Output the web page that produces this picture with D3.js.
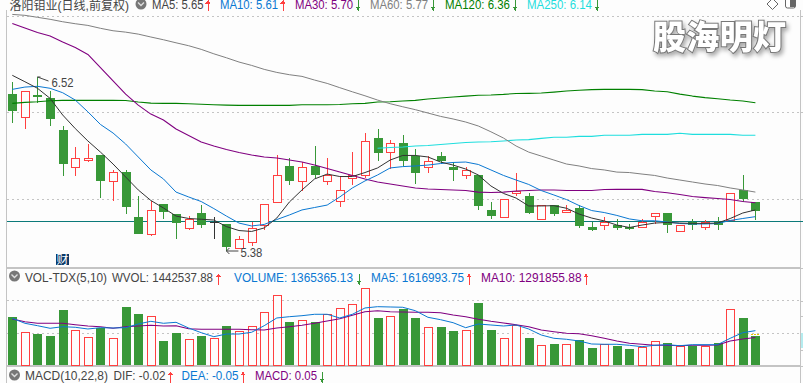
<!DOCTYPE html>
<meta charset="utf-8">
<style>
html, body { margin: 0; padding: 0; background: #fdfdfd; overflow: hidden; }
svg { display: block; }
text { font-family: "Liberation Sans", "Noto Sans CJK SC", sans-serif; font-size: 13px; }
.crisp { shape-rendering: crispEdges; }
.ma { fill: none; stroke-linejoin: round; }
.mark { font-family: "Noto Sans CJK SC"; font-weight: 900; font-size: 33px; fill: #fff; stroke: #777; stroke-width: 2px; paint-order: stroke; filter: drop-shadow(2px 3px 2px #aaa); }
</style>
<body>
<script src="https://d3js.org/d3.v7.min.js"></script>
<script>
const opens = [6.41,6.26,6.40,6.38,6.17,5.93,5.98,6.01,5.84,5.90,5.60,5.49,5.69,5.62,5.53,5.63,5.57,5.56,5.40,5.44,5.55,5.70,5.94,5.84,5.94,5.84,5.71,5.86,5.88,6.12,6.03,6.09,6.00,5.93,6.00,5.93,5.88,5.88,5.65,5.60,5.76,5.74,5.59,5.68,5.64,5.66,5.54,5.55,5.55,5.54,5.54,5.61,5.63,5.51,5.57,5.54,5.57,5.58,5.78,5.70];
const closes = [6.30,6.43,6.39,6.24,5.95,5.99,5.99,5.84,5.90,5.67,5.49,5.65,5.64,5.56,5.59,5.55,5.57,5.41,5.46,5.53,5.69,5.88,5.84,5.93,5.88,5.88,5.78,5.88,6.10,6.02,6.09,5.97,5.89,5.97,5.97,5.91,5.91,5.68,5.61,5.72,5.77,5.63,5.68,5.62,5.65,5.54,5.52,5.57,5.53,5.53,5.57,5.63,5.55,5.55,5.55,5.57,5.55,5.76,5.72,5.64];
const highs = [6.49,6.43,6.52,6.43,6.20,6.06,6.08,6.01,5.91,5.91,5.74,5.71,5.69,5.62,5.61,5.68,5.60,5.56,5.48,5.57,5.69,6.01,5.99,5.96,6.07,5.99,5.87,6.03,6.15,6.18,6.11,6.14,6.05,6.00,6.03,5.96,5.93,5.88,5.70,5.72,5.89,5.76,5.68,5.68,5.68,5.68,5.57,5.60,5.59,5.56,5.59,5.63,5.63,5.55,5.59,5.58,5.60,5.76,5.88,5.70];
const lows = [6.22,6.18,6.35,6.20,5.87,5.87,5.96,5.73,5.71,5.62,5.49,5.48,5.59,5.46,5.52,5.53,5.46,5.38,5.39,5.41,5.52,5.70,5.81,5.77,5.86,5.81,5.67,5.81,5.86,5.97,5.92,5.94,5.82,5.89,5.95,5.84,5.85,5.65,5.59,5.60,5.74,5.62,5.59,5.61,5.63,5.53,5.51,5.52,5.52,5.52,5.53,5.56,5.50,5.51,5.52,5.52,5.52,5.58,5.70,5.58];

const ma5 = [6.531,6.489,6.446,6.380,6.271,6.182,6.101,6.028,5.950,5.865,5.780,5.711,5.662,5.609,5.593,5.588,5.583,5.540,5.514,5.508,5.531,5.596,5.701,5.780,5.852,5.884,5.868,5.868,5.894,5.924,5.976,6.006,6.006,5.996,5.963,5.943,5.917,5.878,5.806,5.757,5.727,5.675,5.675,5.677,5.660,5.622,5.596,5.577,5.550,5.534,5.550,5.563,5.567,5.563,5.561,5.561,5.563,5.593,5.629,5.649];
const ma10 = [6.439,6.454,6.459,6.446,6.417,6.369,6.292,6.209,6.153,6.081,5.996,5.911,5.852,5.766,5.734,5.704,5.658,5.609,5.563,5.544,5.554,5.586,5.616,5.649,5.665,5.681,5.734,5.793,5.839,5.878,5.924,5.933,5.937,5.943,5.953,5.960,5.963,5.947,5.911,5.875,5.845,5.816,5.776,5.747,5.717,5.678,5.645,5.632,5.613,5.590,5.578,5.578,5.570,5.560,5.557,5.557,5.560,5.580,5.593,5.605];
const ma30 = [6.871,6.841,6.811,6.788,6.749,6.713,6.668,6.582,6.494,6.408,6.336,6.277,6.238,6.179,6.137,6.094,6.068,6.045,6.025,6.009,5.996,5.989,5.976,5.963,5.943,5.920,5.897,5.875,5.852,5.832,5.819,5.806,5.793,5.786,5.783,5.780,5.776,5.766,5.763,5.766,5.773,5.776,5.780,5.780,5.776,5.776,5.776,5.783,5.784,5.784,5.784,5.770,5.762,5.750,5.737,5.730,5.724,5.717,5.704,5.696];
const ma60 = [6.930,6.924,6.911,6.898,6.882,6.869,6.858,6.839,6.823,6.814,6.801,6.782,6.764,6.744,6.725,6.701,6.672,6.646,6.618,6.596,6.570,6.550,6.535,6.524,6.500,6.478,6.450,6.423,6.397,6.369,6.345,6.325,6.306,6.284,6.262,6.245,6.225,6.199,6.161,6.120,6.068,6.028,6.002,5.976,5.950,5.937,5.920,5.911,5.897,5.894,5.884,5.875,5.858,5.845,5.832,5.819,5.809,5.793,5.780,5.766];
const ma120 = [6.347,6.354,6.358,6.364,6.367,6.367,6.367,6.367,6.367,6.366,6.356,6.349,6.347,6.347,6.345,6.341,6.338,6.336,6.334,6.334,6.334,6.334,6.334,6.338,6.338,6.338,6.340,6.345,6.347,6.356,6.358,6.363,6.367,6.376,6.382,6.389,6.395,6.400,6.402,6.406,6.412,6.413,6.415,6.421,6.428,6.433,6.437,6.439,6.439,6.439,6.437,6.428,6.423,6.408,6.395,6.385,6.378,6.369,6.363,6.351];
const ma250 = [null,null,null,null,null,null,null,null,null,null,null,null,null,null,null,null,null,null,null,null,null,null,null,null,null,null,null,null,null,6.053,6.058,6.061,6.068,6.071,6.078,6.084,6.091,6.094,6.096,6.101,6.107,6.110,6.118,6.125,6.125,6.131,6.131,6.138,6.138,6.138,6.144,6.144,6.144,6.151,6.144,6.144,6.144,6.144,6.138,6.138];

// volume, thousands of lots
const volumes = [2260,1540,1460,1365,2590,1634,1304,1728,1257,2731,2401,2293,1130,1507,1210,1365,1257,1836,1587,1822,2481,3282,2024,2105,2024,2387,2670,2858,3611,2213,2293,2637,2213,1775,1789,1601,1634,2919,1648,1257,1883,1271,927,989,989,1177,800,975,895,753,847,1116,1036,895,909,895,1036,2622,2213,1365];
const volMa5 = [2199,1963,1850,1728,1803,1775,1695,1756,1742,1756,1930,2057,1963,2010,1742,1521,1332,1459,1459,1540,1850,2213,2274,2321,2387,2387,2213,2387,2684,2745,2731,2717,2556,2246,2133,1991,1756,1930,1883,1836,1883,1695,1412,1257,1210,1130,989,975,975,927,862,927,956,909,956,956,956,1257,1521,1617];
const volMa10 = [2166,2039,1963,1963,1963,1897,1836,1803,1728,1803,1836,1869,1836,1850,1709,1681,1681,1681,1681,1662,1648,1742,1803,1869,1963,2072,2180,2340,2509,2556,2509,2495,2481,2481,2462,2354,2274,2152,2057,1977,1897,1803,1648,1568,1492,1474,1379,1257,1130,1022,975,927,927,909,927,927,942,1130,1224,1292];
const wvolLast = 1443;

const priceGrid = [6.919, 6.287, 5.717];
const refPrice = 5.573;
const volGrid = [3013, 1483];

const blue = "#0a78d2", purple = "#800080", gray = "#808080", dkgreen = "#008000", cyan = "#1fdede";
const red = "#ff4040", green = "#389838", ink = "#444";

const maSeries = [[ma250, cyan, 1.1], [ma120, dkgreen, 1.1], [ma60, gray, 1], [ma30, purple, 1.1], [ma10, blue, 1], [ma5, "#333", 1]];
const volSeries = [[volMa10, purple, 1.1], [volMa5, blue, 1]];

// [text, colour, x start, x end, baseline]
const labels = [
  ["洛阳钼业(日线,前复权)", ink, 9.5, 129, 10],
  ["MA5: 5.65", ink, 152, 203.5, 9], ["MA10: 5.61", blue, 220, 278, 9], ["MA30: 5.70", purple, 295, 353, 9],
  ["MA60: 5.77", gray, 370, 428, 9], ["MA120: 6.36", dkgreen, 445, 510, 9], ["MA250: 6.14", cyan, 527, 592, 9],
  ["VOL-TDX(5,10)", ink, 25, 107, 281.5], ["WVOL: 1442537.88", ink, 112, 213, 281.5], ["VOLUME: 1365365.13", blue, 234, 353, 281.5],
  ["MA5: 1616993.75", blue, 371, 464, 281.5], ["MA10: 1291855.88", purple, 481, 581.5, 281.5],
  ["MACD(10,22,8)", ink, 25, 108, 379.5], ["DIF: -0.02", ink, 113.5, 165.5, 379.5], ["DEA: -0.05", blue, 181.5, 238.5, 379.5], ["MACD: 0.05", purple, 255, 317, 379.5]
];
// [x, baseline, direction]
const arrows = [
  [208, 7.5, 1], [283, 7.5, 1], [358, 7.5, -1], [433, 7.5, -1], [515, 7.5, -1], [597, 7.5, -1],
  [218.5, 281.5, 1], [359, 281.5, -1], [469, 281.5, 1], [586, 281.5, 1],
  [170.5, 379.5, 1], [243, 379.5, 1], [322, 379.5, -1]
];

const width = 803, height = 383;
const svg = d3.select("body").append("svg").attr("width", width).attr("height", height);

const idx = d3.range(opens.length);
const x = d3.scaleLinear().domain([0, opens.length - 1]).range([12.3, 755.4]);
const px = i => Math.round(x(i)) + 0.5;
const y = d3.scaleLinear().domain([5.38, 6.52]).range([251, 77]);
const yVol = d3.scaleLinear().domain([0, 1365]).range([365, 336]);
const snap = v => Math.round(v) + 0.5;
const row = v => Math.floor(v) + 0.5;

// frame
const frame = svg.append("g").attr("class", "crisp").attr("stroke", "#c4c4c4");
frame.append("line").attr("x1", 6.5).attr("x2", 6.5).attr("y1", 10).attr("y2", 383);
frame.append("line").attr("x1", 800.5).attr("x2", 800.5).attr("y1", 10).attr("y2", 383);
[267.5, 268.5, 365.5, 366.5].forEach(v => frame.append("line").attr("x1", 7).attr("x2", 800).attr("y1", v).attr("y2", v));
[16.5, 112.5, 199.5, 268.5, 301.5, 316.5, 350.5, 366.5].forEach(v => frame.append("line").attr("x1", 800).attr("x2", 803).attr("y1", v).attr("y2", v));

// grid
const grid = svg.append("g").attr("class", "crisp").attr("stroke", "#c4c4c4").attr("stroke-dasharray", "2 3");
grid.selectAll(".p").data(priceGrid).join("line").attr("class", "p")
  .attr("x1", 7).attr("x2", 800).attr("y1", d => row(y(d))).attr("y2", d => row(y(d)));
grid.selectAll(".v").data(volGrid).join("line").attr("class", "v")
  .attr("x1", 7).attr("x2", 800).attr("y1", d => row(yVol(d))).attr("y2", d => row(yVol(d)));

svg.append("line").attr("class", "crisp").attr("stroke", "#0b7a7a")
  .attr("x1", 7).attr("x2", 803).attr("y1", row(y(refPrice))).attr("y2", row(y(refPrice)));

// watermark
svg.append("text").attr("class", "mark").attr("x", 653).attr("y", 49).attr("textLength", 133).text("股海明灯");

// candles
const candleColor = i => opens[i] === closes[i] ? "#333" : closes[i] > opens[i] ? red : green;
const candles = svg.append("g").attr("class", "crisp");
candles.selectAll("line").data(idx).join("line")
  .attr("x1", px).attr("x2", px)
  .attr("y1", i => Math.round(y(highs[i]))).attr("y2", i => Math.round(y(lows[i])))
  .attr("stroke", candleColor);
candles.selectAll("rect").data(idx).join("rect")
  .attr("x", i => closes[i] > opens[i] ? px(i) - 4 : px(i) - 4.5)
  .attr("width", i => closes[i] > opens[i] ? 8 : 9)
  .attr("y", i => snap(y(Math.max(opens[i], closes[i]))) - (closes[i] > opens[i] ? 0 : 0.5))
  .attr("height", i => Math.max(1, Math.round(Math.abs(y(opens[i]) - y(closes[i])))))
  .attr("fill", i => closes[i] > opens[i] ? "#fdfdfd" : candleColor(i))
  .attr("stroke", i => closes[i] > opens[i] ? red : "none");

// moving averages
const maLine = d3.line().defined(d => d != null).x((d, i) => x(i)).y(d => y(d));
svg.append("g").selectAll("path").data(maSeries).join("path")
  .attr("class", "ma").attr("stroke", d => d[1]).attr("stroke-width", d => d[2]).attr("d", d => maLine(d[0]));

// high / low notes
const notes = svg.append("g").attr("fill", "none").attr("stroke", ink);
notes.append("path").attr("d", `M${x(2)},${y(6.52)}L${x(2) + 3},${y(6.52)}M${x(2)},${y(6.52)}L${x(2) + 11},${y(6.52) + 4}`);
notes.append("path").attr("d", `M${x(17)},${y(5.38)}L${x(17) + 12},${y(5.38)}M${x(17)},${y(5.38)}l3,-3M${x(17)},${y(5.38)}l3,3`);
svg.append("text").attr("x", x(2) + 14).attr("y", y(6.52) + 10).attr("textLength", 22).attr("lengthAdjust", "spacingAndGlyphs").attr("fill", ink).text("6.52");
svg.append("text").attr("x", x(17) + 14).attr("y", y(5.38) + 6).attr("textLength", 22).attr("lengthAdjust", "spacingAndGlyphs").attr("fill", ink).text("5.38");

// 财 badge
svg.append("rect").attr("x", 56).attr("y", 254).attr("width", 13).attr("height", 11).attr("fill", "#0a3a6a");
svg.append("text").attr("x", 62.5).attr("y", 264).attr("text-anchor", "middle").attr("fill", "#fff").style("font-size", "12px").text("财");

// volume
const volUp = i => closes[i] >= opens[i];
svg.append("g").attr("class", "crisp").selectAll("rect").data(idx).join("rect")
  .attr("x", i => volUp(i) ? px(i) - 4 : px(i) - 4.5)
  .attr("width", i => volUp(i) ? 8 : 9)
  .attr("y", i => snap(yVol(volumes[i])) - (volUp(i) ? 0 : 0.5))
  .attr("height", i => yVol(0) - snap(yVol(volumes[i])) - (volUp(i) ? 0 : -0.5))
  .attr("fill", i => volUp(i) ? "#fdfdfd" : green)
  .attr("stroke", i => volUp(i) ? red : "none");
const volLine = d3.line().x((d, i) => x(i)).y(d => yVol(d));
svg.append("g").selectAll("path").data(volSeries).join("path")
  .attr("class", "ma").attr("stroke", d => d[1]).attr("stroke-width", d => d[2]).attr("d", d => volLine(d[0]));
svg.append("line").attr("class", "crisp").attr("stroke", "#e6c800").attr("stroke-dasharray", "2 1")
  .attr("x1", x(59) - 4.5).attr("x2", x(59) + 4.5).attr("y1", row(yVol(wvolLast))).attr("y2", row(yVol(wvolLast)));

// right-edge tag
svg.append("rect").attr("x", 801).attr("y", 333).attr("width", 2).attr("height", 15).attr("fill", "#b5ecef");

// header labels
svg.append("g").selectAll("text").data(labels).join("text")
  .attr("x", d => d[2]).attr("y", d => d[4]).attr("fill", d => d[1])
  .style("font-size", d => d[4] < 20 ? "12px" : "13px")
  .attr("textLength", d => d[3] - d[2]).attr("lengthAdjust", "spacingAndGlyphs").text(d => d[0]);

// up / down arrows
const arrowG = svg.append("g").attr("class", "crisp");
arrows.forEach(([ax, base, dir]) => {
  const c = dir > 0 ? red : green;
  const top = base - 8, bot = base + 3;
  arrowG.append("line").attr("x1", ax).attr("x2", ax).attr("y1", Math.max(0, top)).attr("y2", bot).attr("stroke", c);
  const tip = dir > 0 ? Math.max(0, top) : bot;
  arrowG.append("path").attr("fill", c).attr("d", `M${ax},${tip}l-2.5,${dir * 3.5}h5z`);
});

// little round header buttons
[[141, 4], [14.5, 276], [14.5, 375]].forEach(([cx, cy]) => {
  svg.append("circle").attr("cx", cx).attr("cy", cy).attr("r", 5.5).attr("fill", "#777");
  svg.append("path").attr("d", `M${cx - 3},${cy - 1.5}L${cx},${cy + 1.5}L${cx + 3},${cy - 1.5}`)
    .attr("fill", "none").attr("stroke", "#ddd").attr("stroke-width", 1.4);
});

// top-right icons
svg.append("path").attr("d", "M772.5,-1.5L778,4L772.5,9.5L767,4Z").attr("fill", "#fff").attr("stroke", "#666");
svg.append("rect").attr("x", 785.5).attr("y", -2).attr("width", 10).attr("height", 10).attr("rx", 2).attr("fill", "#fff").attr("stroke", "#666");
svg.append("rect").attr("x", 790).attr("y", -1).attr("width", 5).attr("height", 8).attr("fill", "#666");
</script>
</body>
